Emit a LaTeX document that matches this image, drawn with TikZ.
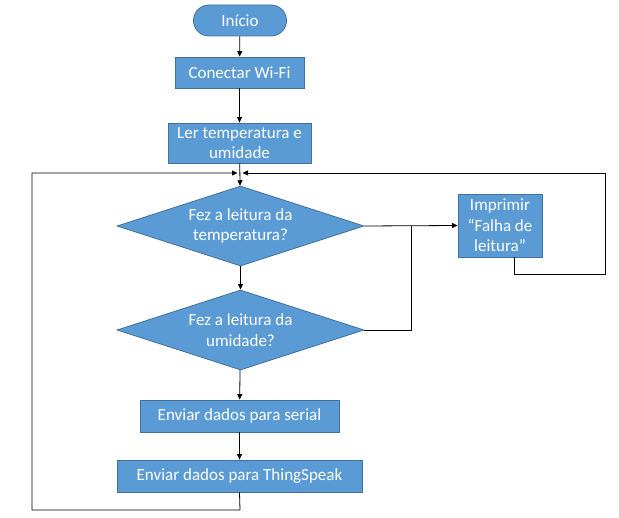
\documentclass[tikz,border=0pt]{standalone}
\usepackage{fontspec}
\setmainfont{Carlito}
\usetikzlibrary{shapes.geometric,arrows.meta}
\definecolor{boxfill}{HTML}{5B9BD5}
\definecolor{boxline}{HTML}{41719C}
\begin{document}
\begin{tikzpicture}[x=1pt,y=-1pt,
  every node/.style={font=\fontsize{17}{20.5}\selectfont, text=white},
  proc/.style={draw=boxline, fill=boxfill, line width=0.8pt, rectangle, inner sep=0pt, align=center},
  term/.style={proc, rounded corners=15.5pt},
  decis/.style={draw=boxline, fill=boxfill, line width=0.8pt, diamond, aspect=3.2, inner sep=0pt, align=center, minimum width=247pt, minimum height=80pt},
  conn/.style={draw=black, line width=0.8pt},
  arr/.style={conn, -{Triangle[length=5.5pt,width=5pt]}}]
\useasboundingbox (0,0) rectangle (619,518);
\node[term, minimum width=93pt, minimum height=31pt] (inicio) at (240,20.5) {Início};
\node[proc, minimum width=129pt, minimum height=31pt] (wifi) at (239.5,72.5) {Conectar Wi-Fi};
\node[proc, minimum width=143pt, minimum height=40pt] (ler) at (239.5,143) {Ler temperatura e\\umidade};
\node[decis] (d1) at (240.5,226) {Fez a leitura da\\temperatura?};
\node[decis] (d2) at (240.5,330) {Fez a leitura da\\umidade?};
\node[proc, minimum width=84pt, minimum height=63pt] (imp) at (500,225.5) {Imprimir\\“Falha de\\leitura”};
\node[proc, minimum width=199pt, minimum height=32pt] (serial) at (239.5,416) {Enviar dados para serial};
\node[proc, minimum width=245pt, minimum height=32pt] (thing) at (239.5,476) {Enviar dados para ThingSpeak};
\coordinate (midL) at (237.5,173);
\coordinate (midR) at (242.5,173);
\coordinate (jn) at (411,226);
\draw[arr] (inicio) -- (wifi);
\draw[arr] (wifi) -- (ler);
\draw[arr] (ler) -- (d1);
\draw[arr] (d1) -- (d2);
\draw[arr] (d2) -- (serial);
\draw[arr] (serial) -- (thing);
\draw[arr] (d1.east) -- (imp.west);
\draw[conn] (d2.east) -| (jn);
\draw[arr] (thing.south) -- (240,510) -| (32,173) -- (midL);
\draw[arr] (imp.south -| 514,0) |- (605,274) |- (midR);
\end{tikzpicture}
\end{document}
